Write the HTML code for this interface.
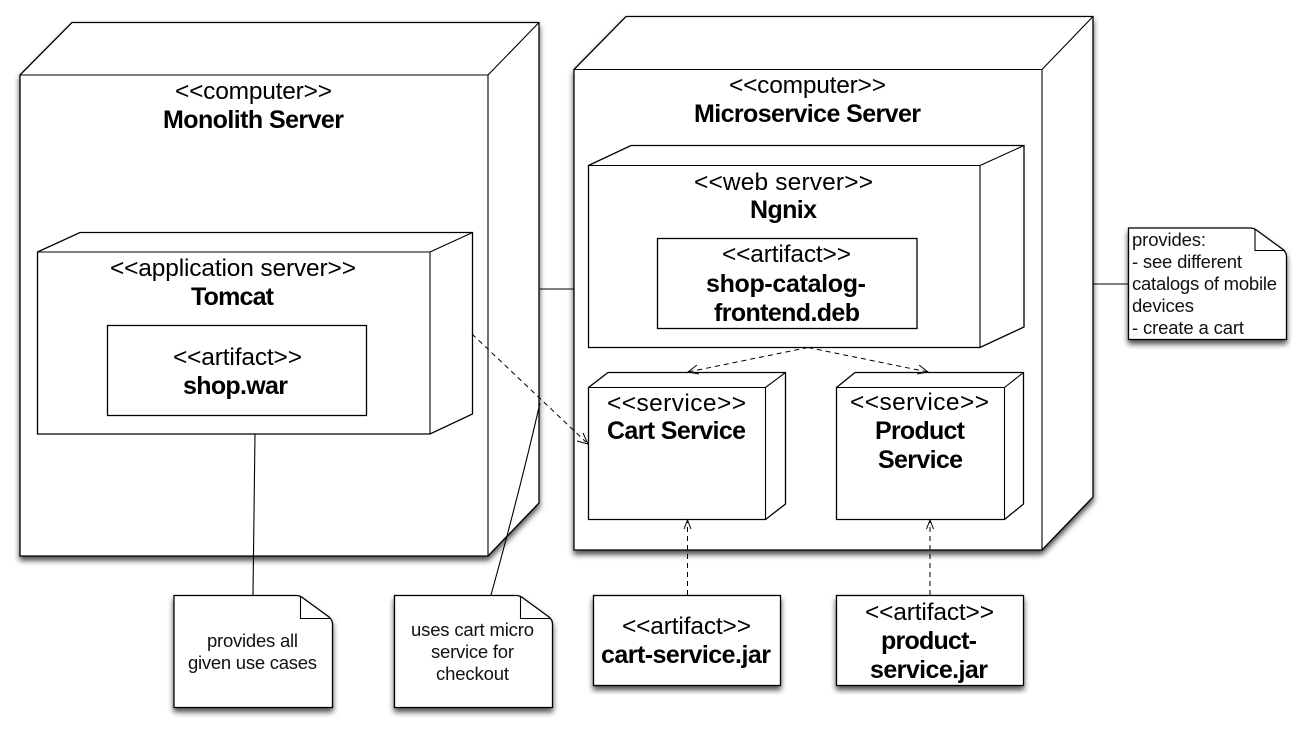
<!DOCTYPE html>
<html><head><meta charset="utf-8"><style>
html,body{margin:0;padding:0;background:#fff}
svg{display:block}
text{font-family:"Liberation Sans",Arial,sans-serif;fill:#000}
.n{font-size:24.5px}
.b{font-size:25px;font-weight:bold}
.s{font-size:18.5px;fill:#111}
.box{fill:#fff;stroke:#000;stroke-width:1.3}
.ln{fill:none;stroke:#000;stroke-width:1.1}
.d{fill:none;stroke:#000;stroke-width:1;stroke-dasharray:5 4}
.a{fill:none;stroke:#000;stroke-width:1}
</style></head><body>
<svg xmlns="http://www.w3.org/2000/svg" width="1306" height="731" viewBox="0 0 1306 731">
<defs><filter id="sh" x="-10%" y="-10%" width="120%" height="120%"><feDropShadow dx="0" dy="4" stdDeviation="3" flood-color="#000" flood-opacity=".7"/></filter></defs>
<rect width="1306" height="731" fill="#fff"/>

<path class="ln" d="M540 289H574M1093 284H1128"/>

<!-- Monolith -->
<path class="box" filter="url(#sh)" d="M20 75L72 22.500H539V503L488 556H20Z"/>
<path class="ln" d="M20 75H488V556M488 75L539 22.500"/>
<path class="ln" d="M540 403Q520 490 491 595"/>
<path class="ln" d="M255 434L253 595"/>
<path class="box" d="M37.500 252L80 232.500H472.500V414L430 434H37.500Z"/>
<path class="ln" d="M37.500 252H430V434M430 252L472.500 232.500"/>
<rect class="box" x="107.500" y="325.500" width="259" height="90"/>

<!-- Microservice -->
<path class="box" filter="url(#sh)" d="M574 69.500L626 16.500H1093V497L1042 550H574Z"/>
<path class="ln" d="M574 69.500H1042V550M1042 69.500L1093 16.500"/>
<path class="box" d="M588.500 165.500L631 145.500H1024V327L980 347.500H588.500Z"/>
<path class="ln" d="M588.500 165.500H980V347.500M980 165.500L1024 145.500"/>
<rect class="box" x="657.500" y="238.500" width="259.500" height="90"/>

<path class="box" d="M588.500 387.500L608 372.500H785.500V504L765.500 519.500H588.500Z"/>
<path class="ln" d="M588.500 387.500H765.500V519.500M765.500 387.500L785.500 372.500"/>
<path class="box" d="M836.500 387.500L855 372.500H1023.500V504L1004.500 519.500H836.500Z"/>
<path class="ln" d="M836.500 387.500H1004.500V519.500M1004.500 387.500L1023.500 372.500"/>

<!-- artifacts -->
<rect class="box" filter="url(#sh)" x="593.500" y="595.500" width="187" height="90"/>
<rect class="box" filter="url(#sh)" x="836.500" y="595.500" width="187" height="90"/>

<!-- notes -->
<path class="box" filter="url(#sh)" d="M174 595.500H296Q300 595.500 303 598L329 617Q332.500 620 332.500 624V707.500H174Z"/>
<path class="ln" d="M300.500 596.500V618.500H331"/>
<path class="box" filter="url(#sh)" d="M394.500 595.500H516Q520 595.500 523 598L549 617Q552.500 620 552.500 624V707.500H394.500Z"/>
<path class="ln" d="M520.500 596.500V618.500H551"/>
<path class="box" filter="url(#sh)" d="M1128.500 228H1250Q1254 228 1257 230.500L1283 249.500Q1286.500 252.500 1286.500 256.500V339.500H1128.500Z"/>
<path class="ln" d="M1255 229V250.500H1285"/>

<!-- dependencies -->
<path class="d" d="M472 334L586 442"/>
<path class="a" d="M577 441L588 444L583 433"/>
<path class="d" d="M808 347.500L688 372"/>
<path class="a" d="M697 365L688 372L699 374"/>
<path class="d" d="M808 347.500L928 372"/>
<path class="a" d="M919 365L928 372L917 374"/>
<path class="d" d="M687.500 595V522"/>
<path class="a" d="M684 529L687.500 520L691 529"/>
<path class="d" d="M930 595V522"/>
<path class="a" d="M926.500 529L930 520L933.500 529"/>

<!-- labels -->
<text class="n" x="175" y="99" textLength="157">&lt;&lt;computer&gt;&gt;</text>
<text class="b" x="163" y="128" textLength="181">Monolith Server</text>
<text class="n" x="110" y="276" textLength="246">&lt;&lt;application server&gt;&gt;</text>
<text class="b" x="191" y="305" textLength="83">Tomcat</text>
<text class="n" x="173" y="365" textLength="129">&lt;&lt;artifact&gt;&gt;</text>
<text class="b" x="183" y="394" textLength="105">shop.war</text>

<text class="n" x="729" y="93" textLength="157">&lt;&lt;computer&gt;&gt;</text>
<text class="b" x="694" y="122" textLength="227">Microservice Server</text>
<text class="n" x="694" y="190" textLength="179">&lt;&lt;web server&gt;&gt;</text>
<text class="b" x="750" y="218" textLength="67">Ngnix</text>
<text class="n" x="722" y="262" textLength="129">&lt;&lt;artifact&gt;&gt;</text>
<text class="b" x="706" y="292" textLength="160">shop-catalog-</text>
<text class="b" x="714" y="321" textLength="146">frontend.deb</text>

<text class="n" x="607" y="411" textLength="139">&lt;&lt;service&gt;&gt;</text>
<text class="b" x="607" y="439" textLength="139">Cart Service</text>
<text class="n" x="850" y="410" textLength="139">&lt;&lt;service&gt;&gt;</text>
<text class="b" x="875" y="439" textLength="90">Product</text>
<text class="b" x="878" y="468" textLength="85">Service</text>

<text class="n" x="622" y="634" textLength="129">&lt;&lt;artifact&gt;&gt;</text>
<text class="b" x="601" y="663" textLength="170">cart-service.jar</text>
<text class="n" x="865" y="620" textLength="129">&lt;&lt;artifact&gt;&gt;</text>
<text class="b" x="881" y="649" textLength="96">product-</text>
<text class="b" x="870" y="678" textLength="118">service.jar</text>

<text class="s" x="207" y="647" textLength="91">provides all</text>
<text class="s" x="188" y="669" textLength="129">given use cases</text>
<text class="s" x="411" y="636" textLength="123">uses cart micro</text>
<text class="s" x="431" y="658" textLength="83">service for</text>
<text class="s" x="436" y="680" textLength="73">checkout</text>

<text class="s" x="1132" y="246" textLength="74">provides:</text>
<text class="s" x="1132" y="268" textLength="110">- see different</text>
<text class="s" x="1132" y="290" textLength="145">catalogs of mobile</text>
<text class="s" x="1132" y="312" textLength="62">devices</text>
<text class="s" x="1132" y="334" textLength="112">- create a cart</text>
</svg>
</body></html>
